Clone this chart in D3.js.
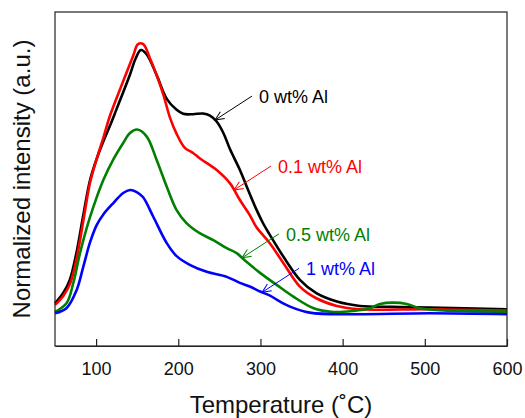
<!DOCTYPE html>
<html>
<head>
<meta charset="utf-8">
<script src="https://cdn.jsdelivr.net/npm/d3@7"></script>
<style>
    body { margin: 0; background: #fff; }
    text { font-family: Arial, "Liberation Sans", sans-serif; }
</style>
</head>
<body>
<svg id="chart"></svg>
<script>
// series: temperature (C) and normalized intensity (a.u.)
const temp0 = [50, 60, 68, 76, 84, 92.6, 100.7, 108.8, 117, 125, 133, 141.3, 148, 154.5, 161.6, 173.7, 186, 198, 206, 218, 230, 238.6, 246.7, 255, 263, 275, 283, 295, 303.5, 311.6, 328, 348, 368, 393, 421, 460, 506, 600];
const int0 = [12.8, 15.9, 19.8, 27.8, 38.6, 49.6, 56.0, 61.2, 66.0, 71.0, 76.0, 81.3, 86.0, 88.6, 87.3, 81.1, 74.0, 70.7, 69.5, 69.4, 69.6, 69.0, 67.2, 63.7, 58.9, 52.7, 47.9, 40.9, 36.6, 33.2, 26.7, 19.8, 15.8, 13.3, 12.0, 11.7, 11.5, 11.0];

const temp01 = [50, 60, 68.3, 76.4, 84.4, 92.6, 100.7, 108.8, 117, 133, 145, 151, 157.4, 165.6, 173.7, 182, 190, 198, 208, 218, 226, 246.7, 263, 275, 287, 295, 311.6, 328, 348, 368, 393, 421, 506, 600];
const int01 = [12.3, 15.0, 18.6, 26.3, 37.4, 48.9, 56.0, 62.3, 69.0, 79.3, 86.8, 90.4, 90.4, 86.1, 81.1, 75.1, 68.3, 63.5, 59.3, 57.8, 56.2, 52.7, 48.7, 43.7, 39.2, 35.6, 30.7, 24.8, 17.8, 14.3, 12.0, 11.0, 11.0, 10.6];

const temp05 = [50, 64.2, 72.3, 80.4, 88.6, 96.6, 108.8, 121, 133, 141.3, 150, 161.6, 173.7, 186, 198, 210, 226, 242.7, 259, 271, 283, 299.5, 319.7, 340, 364, 388.6, 413, 433, 445.5, 461.7, 478, 494, 530, 600];
const int05 = [10.2, 12.9, 18.9, 27.8, 35.4, 41.6, 49.7, 55.9, 60.8, 63.8, 64.8, 62.7, 55.7, 47.7, 40.7, 36.8, 33.8, 31.7, 29.3, 27.8, 25.2, 21.9, 18.3, 14.8, 11.4, 10.2, 10.5, 11.3, 12.6, 13.0, 12.6, 11.3, 10.6, 10.3];

const temp1 = [50, 64.2, 76.4, 84.4, 92.6, 100.7, 108.8, 121, 133, 141.3, 149.4, 157, 169.6, 186, 198, 214, 234.6, 259, 275, 287, 299.5, 311.6, 319.7, 336, 360, 409, 506, 600];
const int1 = [9.8, 11.4, 16.8, 23.7, 31.0, 36.2, 39.4, 42.8, 45.8, 46.7, 46.1, 44.6, 38.7, 30.8, 26.9, 24.3, 22.2, 20.7, 18.9, 17.8, 16.3, 15.1, 13.9, 11.8, 10.0, 9.5, 9.8, 9.5];

const seriesNames = ["0 wt% Al", "0.1 wt% Al", "0.5 wt% Al", "1 wt% Al"];
const seriesColors = ["#000000", "#ff0000", "#008000", "#0000ff"];
const labelTemps = [244.7, 267.8, 277.5, 301.9];   // where each arrow points on its curve

const xTicks = [100, 200, 300, 400, 500, 600];
const xTitle = "Temperature (\u02DAC)";
const yTitle = "Normalized intensity (a.u.)";

const width = 525, height = 418;
const margin = { top: 12, right: 18, bottom: 72, left: 55 };

const svg = d3.select("#chart").attr("width", width).attr("height", height);

const x = d3.scaleLinear().domain([50, 600]).range([margin.left, width - margin.right]);
const y = d3.scaleLinear().domain([0, 100]).range([height - margin.bottom, margin.top]);

const series = [[temp0, int0], [temp01, int01], [temp05, int05], [temp1, int1]].map(([t, v], i) => ({
    name: seriesNames[i],
    color: seriesColors[i],
    values: t.map((d, j) => ({ t: d, v: v[j] }))
}));

const line = d3.line()
    .x(d => x(d.t))
    .y(d => y(d.v))
    .curve(d3.curveCatmullRom.alpha(0.5));

svg.append("g")
    .selectAll("path")
    .data(series)
    .join("path")
    .attr("fill", "none")
    .attr("stroke", d => d.color)
    .attr("stroke-width", 2.6)
    .attr("stroke-linejoin", "round")
    .attr("d", d => line(d.values));

// frame
svg.append("rect")
    .attr("x", margin.left)
    .attr("y", margin.top)
    .attr("width", width - margin.left - margin.right)
    .attr("height", height - margin.top - margin.bottom)
    .attr("fill", "none")
    .attr("stroke", "#222")
    .attr("stroke-width", 1.2);

// bottom axis, ticks pointing in
const xAxis = svg.append("g")
    .attr("transform", `translate(0, ${height - margin.bottom})`)
    .call(d3.axisBottom(x).tickValues(xTicks).tickSizeInner(-7).tickSizeOuter(0).tickPadding(16));
xAxis.select(".domain").attr("stroke", "#222").attr("stroke-width", 1.2);
xAxis.selectAll(".tick line").attr("stroke", "#222").attr("stroke-width", 1.2);
xAxis.selectAll("text")
    .attr("font-size", "18px")
    .attr("fill", "#111")
    .attr("font-family", "Arial, 'Liberation Sans', sans-serif");

svg.append("text")
    .attr("x", (margin.left + width - margin.right) / 2)
    .attr("y", 413)
    .attr("text-anchor", "middle")
    .attr("font-size", "24px")
    .attr("fill", "#111")
    .text(xTitle);

svg.append("text")
    .attr("transform", `translate(30, ${(margin.top + height - margin.bottom) / 2}) rotate(-90)`)
    .attr("text-anchor", "middle")
    .attr("font-size", "24px")
    .attr("fill", "#111")
    .text(yTitle);

// arrow annotations
const defs = svg.append("defs");
series.forEach((s, i) => {
    defs.append("marker")
        .attr("id", "arrow" + i)
        .attr("viewBox", "0 0 10 10")
        .attr("refX", 10).attr("refY", 5)
        .attr("markerWidth", 10).attr("markerHeight", 10)
        .attr("markerUnits", "userSpaceOnUse")
        .attr("orient", "auto")
        .append("path")
        .attr("d", "M1,1 L10,5 L1,9")
        .attr("fill", "none")
        .attr("stroke", s.color)
        .attr("stroke-width", 1);
});

const interp = (vals, t) => {
    const k = d3.bisector(d => d.t).left(vals, t);
    const a = vals[k - 1], b = vals[k];
    return a.v + (b.v - a.v) * (t - a.t) / (b.t - a.t);
};

const notes = svg.append("g");
series.forEach((s, i) => {
    const tx = x(labelTemps[i]);
    const ty = y(interp(s.values, labelTemps[i]));
    notes.append("line")
        .attr("x1", tx + 37).attr("y1", ty - 24)
        .attr("x2", tx).attr("y2", ty)
        .attr("stroke", s.color)
        .attr("stroke-width", 1)
        .attr("marker-end", `url(#arrow${i})`);
    notes.append("text")
        .attr("x", tx + 44)
        .attr("y", ty - 17)
        .attr("font-size", "18px")
        .attr("fill", s.color)
        .text(s.name);
});
</script>
</body>
</html>
